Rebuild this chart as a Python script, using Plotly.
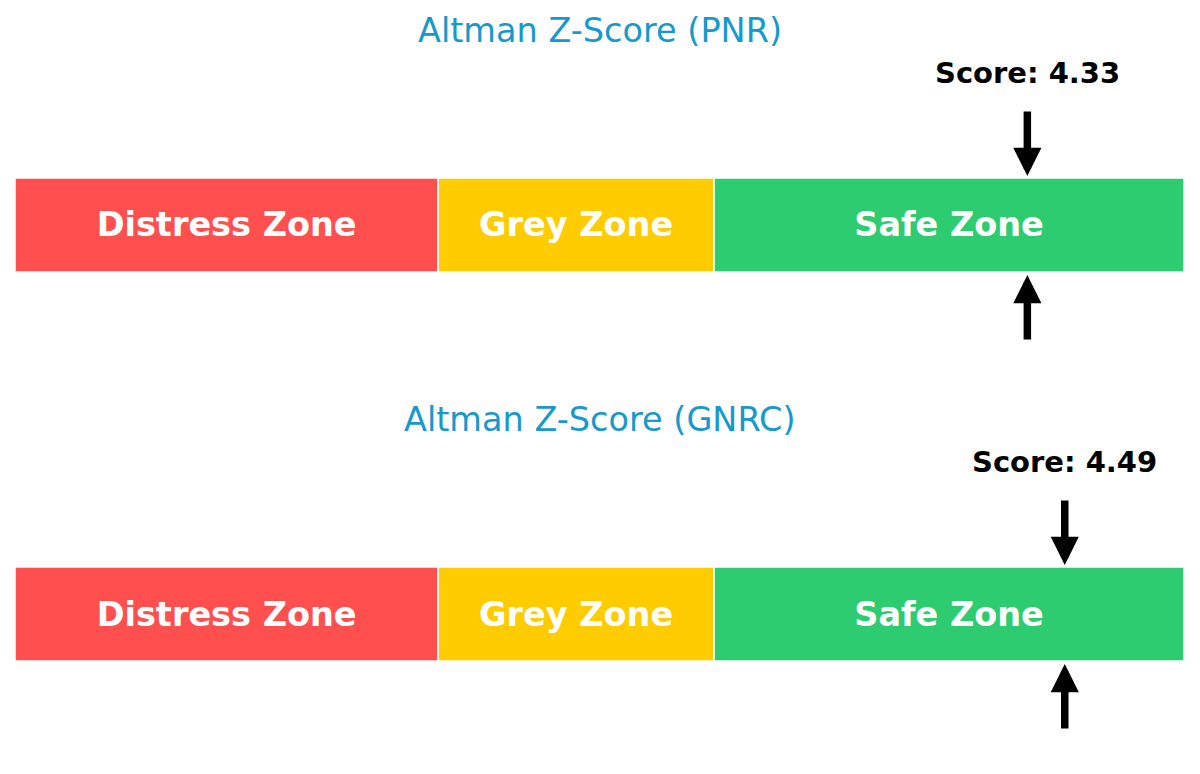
import plotly.graph_objects as go
from plotly.subplots import make_subplots

# Zone data
zone_names = ["Distress Zone", "Grey Zone", "Safe Zone"]
zone_starts = [0, 1.81, 2.99]
zone_widths = [1.81, 1.18, 2.01]
zone_colors = ["#FF4F4F", "#FFCC00", "#2ECC71"]

# Companies and their Z-scores
tickers = ["PNR", "GNRC"]
scores = [4.33, 4.49]

FONT = "DejaVu Sans"
TITLE_COLOR = "#1799CC"

fig = make_subplots(rows=2, cols=1, vertical_spacing=0.0)

for i, (ticker, score) in enumerate(zip(tickers, scores)):
    row = i + 1
    fig.add_trace(go.Bar(
        x=zone_widths,
        base=zone_starts,
        y=[0, 0, 0],
        width=1,
        orientation="h",
        marker=dict(color=zone_colors, line=dict(color="white", width=1.5)),
        text=zone_names,
        textposition="inside",
        insidetextanchor="middle",
        textfont=dict(family=FONT, size=33.5, color="white", weight="bold"),
        hoverinfo="skip",
        showlegend=False,
    ), row=row, col=1)

    xref = "x" if i == 0 else "x2"
    yref = "y" if i == 0 else "y2"

    # title above each panel
    fig.add_annotation(
        text=f"Altman Z-Score ({ticker})",
        xref=xref + " domain", yref=yref + " domain",
        x=0.5, y=1, yanchor="middle", yshift=44,
        showarrow=False,
        font=dict(family=FONT, size=33.5, color=TITLE_COLOR),
    )
    # score label
    fig.add_annotation(
        text=f"<b>Score: {score:.2f}</b>",
        xref=xref, yref=yref, x=score, y=0.5,
        yanchor="middle", yshift=105, showarrow=False,
        font=dict(family=FONT, size=29, color="black"),
    )
    # arrow from above
    fig.add_annotation(
        xref=xref, yref=yref, x=score, y=0.5,
        ax=0, ay=-68, text="", showarrow=True,
        arrowhead=2, arrowsize=0.75, arrowwidth=7.5,
        arrowcolor="black", standoff=2,
    )
    # arrow from below
    fig.add_annotation(
        xref=xref, yref=yref, x=score, y=-0.5,
        ax=0, ay=69, text="", showarrow=True,
        arrowhead=2, arrowsize=0.75, arrowwidth=7.5,
        arrowcolor="black", standoff=3,
    )

fig.update_xaxes(range=[0, 5], visible=False, fixedrange=True)
fig.update_yaxes(range=[-1.6, 1.6], visible=False, fixedrange=True)
fig.update_layout(
    width=1200, height=774,
    margin=dict(l=7, r=24, t=0, b=0),
    plot_bgcolor="white", paper_bgcolor="white",
    barmode="overlay",
    yaxis=dict(domain=[0.5253, 0.914]),
    yaxis2=dict(domain=[0.0227, 0.4114]),
)

fig.write_html("out.html")
